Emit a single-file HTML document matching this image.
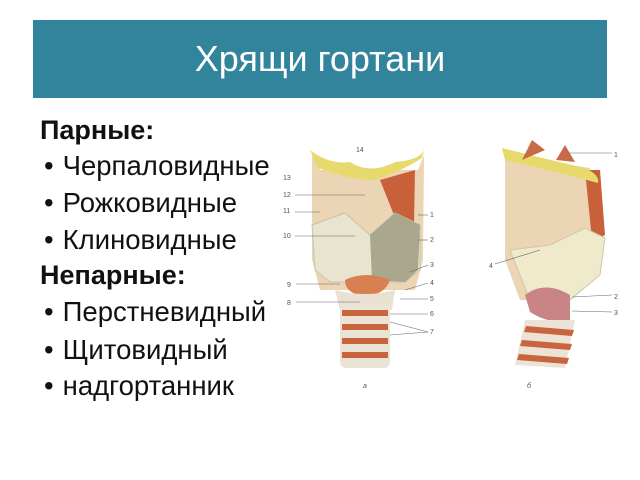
<!DOCTYPE html>
<html><head><meta charset="utf-8"><style>
body{margin:0;width:640px;height:480px;background:#fff;position:relative;overflow:hidden;font-family:"Liberation Sans",sans-serif}
.hdr{position:absolute;left:33px;top:20px;width:574px;height:78px;background:#31849b;color:#fff;font-size:36px;text-align:center;line-height:78px}
.t{position:absolute;left:40px;font-size:27.5px;color:#111;white-space:nowrap;line-height:30px}
.b{font-weight:bold;font-size:27px}
.li{left:44px}
.li:before{content:"•";margin-right:9px}
</style></head><body>
<div class="hdr">Хрящи гортани</div>
<div class="t b" style="top:115px">Парные:</div>
<div class="t li" style="top:151px">Черпаловидные</div>
<div class="t li" style="top:188px">Рожковидные</div>
<div class="t li" style="top:225px">Клиновидные</div>
<div class="t b" style="top:260px">Непарные:</div>
<div class="t li" style="top:297px">Перстневидный</div>
<div class="t li" style="top:335px">Щитовидный</div>
<div class="t li" style="top:371px">надгортанник</div>
<svg style="position:absolute;left:0;top:0" width="640" height="480" font-family="Liberation Sans" font-size="7" fill="#555">
<g>
<path d="M312,155 L320,170 L418,170 L424,155 L423,260 L415,290 L320,290 L312,260 Z" fill="#ecd5b5"/>
<path d="M380,180 L415,170 L414,225 L400,230 Z" fill="#c8603a"/>
<path d="M310,150 Q330,165 350,162 Q370,175 395,162 Q420,160 424,150 L422,158 Q400,172 375,180 Q350,180 318,168 Z" fill="#e6da6c"/>
<path d="M312,225 L345,213 L370,235 L395,213 L420,225 L420,270 L405,282 L330,282 L315,270 Z" fill="#e8e4cf" stroke="#c9c3a8" stroke-width="1"/>
<path d="M370,235 L395,213 L420,225 L418,270 L405,282 L372,280 Z" fill="#a9a88e"/>
<path d="M345,280 Q365,270 390,280 Q385,295 365,296 Q345,294 345,280 Z" fill="#d98050"/>
<path d="M335,290 Q365,298 395,290 L392,310 L340,310 Z" fill="#e9e2d2"/>
<rect x="340" y="304" width="50" height="64" rx="6" fill="#ebe3d6"/>
<g fill="#c8643e"><rect x="342" y="310" width="46" height="6"/><rect x="342" y="324" width="46" height="6"/><rect x="342" y="338" width="46" height="6"/><rect x="342" y="352" width="46" height="6"/></g>
<text x="356" y="152">14</text><text x="283" y="180">13</text><text x="283" y="197">12</text><text x="283" y="213">11</text><text x="283" y="238">10</text>
<text x="287" y="287">9</text><text x="287" y="305">8</text>
<text x="430" y="217">1</text><text x="430" y="242">2</text><text x="430" y="267">3</text><text x="430" y="285">4</text><text x="430" y="301">5</text><text x="430" y="316">6</text><text x="430" y="334">7</text>
<text x="363" y="388" font-style="italic">а</text>
</g>
<g stroke="#666" stroke-width="0.6">
<line x1="295" y1="195" x2="365" y2="195"/><line x1="295" y1="212" x2="320" y2="212"/><line x1="295" y1="236" x2="355" y2="236"/>
<line x1="296" y1="284" x2="340" y2="284"/><line x1="296" y1="302" x2="360" y2="302"/>
<line x1="418" y1="215" x2="428" y2="215"/><line x1="418" y1="240" x2="428" y2="240"/>
<line x1="410" y1="272" x2="428" y2="265"/><line x1="405" y1="290" x2="428" y2="283"/><line x1="400" y1="299" x2="428" y2="299"/><line x1="390" y1="314" x2="428" y2="314"/>
<line x1="390" y1="322" x2="428" y2="332"/><line x1="390" y1="335" x2="428" y2="332"/>
</g>
<g>
<path d="M505,155 L590,168 L605,240 L595,270 L560,300 L520,300 L505,260 Z" fill="#ecd5b5"/>
<path d="M585,170 L600,170 L605,235 L592,240 Z" fill="#c8603a"/>
<path d="M502,148 Q550,160 585,168 Q600,175 598,183 Q570,175 505,160 Z" fill="#e6da6c"/>
<path d="M522,160 L532,140 L545,150 Z M556,160 L565,145 L575,162 Z" fill="#c86a48"/>
<path d="M510,250 L550,245 L585,228 L605,238 L600,275 L570,300 L530,300 Z" fill="#efeacc" stroke="#cfc8a6" stroke-width="1"/>
<path d="M525,295 Q545,280 570,295 L570,320 Q550,325 530,312 Z" fill="#c98585"/>
<path d="M525,320 L575,320 L565,368 L515,365 Z" fill="#ebe3d6"/>
<g fill="#c8643e"><path d="M526,326 L574,330 L572,336 L524,332Z"/><path d="M522,340 L572,344 L570,350 L520,346Z"/><path d="M519,354 L569,358 L567,364 L517,360Z"/></g>
<text x="614" y="157">1</text><text x="489" y="268">4</text><text x="614" y="299">2</text><text x="614" y="315">3</text>
<text x="527" y="388" font-style="italic">б</text>
</g>
<g stroke="#666" stroke-width="0.6">
<line x1="568" y1="153" x2="612" y2="153"/><line x1="495" y1="264" x2="540" y2="250"/>
<line x1="572" y1="297" x2="612" y2="295"/><line x1="572" y1="311" x2="612" y2="312"/>
</g>
</svg>
</body></html>
